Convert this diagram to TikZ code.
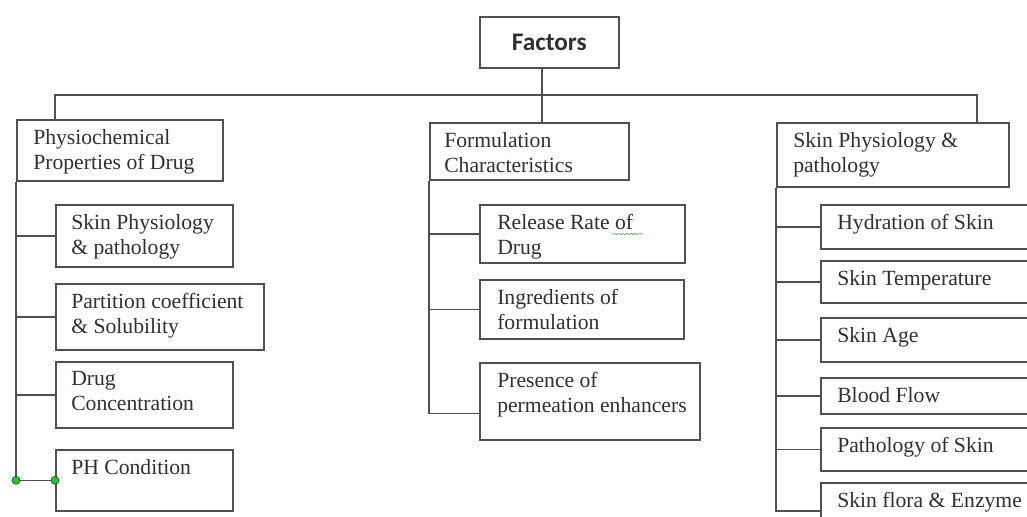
\documentclass[tikz,border=0pt]{standalone}
\usepackage{fontspec}
\setmainfont{Liberation Serif}
\newfontfamily\headfont{Carlito}
\usepackage{tikz}
\usetikzlibrary{decorations.pathmorphing}

\definecolor{linegray}{HTML}{505050}
\definecolor{textgray}{HTML}{303030}
\definecolor{handlegreen}{HTML}{2DBE3C}

\tikzset{
    box/.style={draw=linegray, line width=1.1pt, anchor=north west, inner sep=0pt},
    boxtext/.style={anchor=north west, inner sep=0pt, align=left, text=textgray,
        font=\fontsize{15.4}{17.8}\selectfont},
    link/.style={draw=linegray, line width=1.1pt},
    handle/.style={circle, fill=handlegreen, draw=green!45!black, line width=0.5pt,
        inner sep=0pt, minimum size=0.2cm},
    squiggle/.style={draw=handlegreen!80!gray, line width=0.4pt,
        decorate, decoration={snake, amplitude=0.6pt, segment length=3pt}}
}

\begin{document}
\begin{tikzpicture}[x=0.025cm, y=-0.025cm]
        \useasboundingbox (0,0) rectangle (1027,516);
        \clip (0,0) rectangle (1027,516);

        \node[box, minimum width=3.475cm, minimum height=1.275cm, text=textgray,
            font=\headfont\bfseries\fontsize{18}{20}\selectfont] at (479,16) (factors) {Factors};

        \node[box, minimum width=5.15cm, minimum height=1.525cm] at (16,119) (phys) {};
        \node[box, minimum width=4.975cm, minimum height=1.425cm] at (429,122) (form) {};
        \node[box, minimum width=5.8cm, minimum height=1.6cm] at (776,122) (skin) {};

        \node[box, minimum width=4.425cm, minimum height=1.55cm] at (55,204) (lc1) {};
        \node[box, minimum width=5.2cm, minimum height=1.65cm] at (55,283) (lc2) {};
        \node[box, minimum width=4.425cm, minimum height=1.65cm] at (55,361) (lc3) {};
        \node[box, minimum width=4.425cm, minimum height=1.525cm] at (55,449) (lc4) {};

        \node[box, minimum width=5.125cm, minimum height=1.45cm] at (479,204) (mc1) {};
        \node[box, minimum width=5.1cm, minimum height=1.475cm] at (479,279) (mc2) {};
        \node[box, minimum width=5.5cm, minimum height=1.925cm] at (479,362) (mc3) {};

        \node[box, minimum width=5.5cm, minimum height=1.1cm] at (820,204) (rc1) {};
        \node[box, minimum width=5.5cm, minimum height=1.05cm] at (820,260) (rc2) {};
        \node[box, minimum width=5.5cm, minimum height=1.1cm] at (820,317) (rc3) {};
        \node[box, minimum width=5.5cm, minimum height=0.9cm] at (820,377) (rc4) {};
        \node[box, minimum width=5.5cm, minimum height=1.075cm] at (820,427) (rc5) {};
        \node[box, minimum width=5.5cm, minimum height=1.4cm] at (820,482) (rc6) {};

        \node[boxtext] at ([shift={(17,10)}]phys.north west) (phys-t) {Physiochemical\\Properties of Drug};
        \node[boxtext] at ([shift={(15,10)}]form.north west) (form-t) {Formulation\\Characteristics};
        \node[boxtext] at ([shift={(17,10)}]skin.north west) (skin-t) {Skin Physiology \&\\pathology};

        \node[boxtext] at ([shift={(16,10)}]lc1.north west) (lc1-t) {Skin Physiology\\\& pathology};
        \node[boxtext] at ([shift={(16,10)}]lc2.north west) (lc2-t) {Partition coefficient\\\& Solubility};
        \node[boxtext] at ([shift={(16,10)}]lc3.north west) (lc3-t) {Drug\\Concentration};
        \node[boxtext] at ([shift={(16,10)}]lc4.north west) (lc4-t) {PH Condition};

        \node[boxtext] at ([shift={(18,10)}]mc1.north west) (mc1-t) {Release Rate of\\Drug};
        \node[boxtext] at ([shift={(18,10)}]mc2.north west) (mc2-t) {Ingredients of\\formulation};
        \node[boxtext] at ([shift={(18,10)}]mc3.north west) (mc3-t) {Presence of\\permeation enhancers};

        \node[boxtext] at ([shift={(17,10)}]rc1.north west) (rc1-t) {Hydration of Skin};
        \node[boxtext] at ([shift={(17,10)}]rc2.north west) (rc2-t) {Skin Temperature};
        \node[boxtext] at ([shift={(17,10)}]rc3.north west) (rc3-t) {Skin Age};
        \node[boxtext] at ([shift={(17,10)}]rc4.north west) (rc4-t) {Blood Flow};
        \node[boxtext] at ([shift={(17,10)}]rc5.north west) (rc5-t) {Pathology of Skin};
        \node[boxtext] at ([shift={(17,10)}]rc6.north west) (rc6-t) {Skin flora \& Enzyme};

        \coordinate (busl) at (55,95);
        \coordinate (busm) at (542,95);
        \coordinate (busr) at (977,95);
        \coordinate (mc3-in) at ([yshift=-0.3cm]mc3.west);

        \draw[link] (busl |- phys.north) -- (busl) -- (busr) -- (busr |- skin.north);
        \draw[link] (busm |- factors.south) -- (busm |- form.north);

        \draw[link] (phys.south west) |- (lc4.west);
        \foreach \c in {lc1, lc2, lc3}
            \draw[link] (phys.south west |- \c.west) -- (\c.west);

        \draw[link] (form.south west) |- (mc3-in);
        \foreach \c in {mc1, mc2}
            \draw[link] (form.south west |- \c.west) -- (\c.west);

        \draw[link] (skin.south west) |- (rc6.west);
        \foreach \c in {rc1, rc2, rc3, rc4, rc5}
            \draw[link] (skin.south west |- \c.west) -- (\c.west);

        \draw[squiggle] (613,234) -- (643,234);

        \node[handle] at (phys.south west |- lc4.west) (h1) {};
        \node[handle] at (lc4.west) (h2) {};
    \end{tikzpicture}
\end{document}
